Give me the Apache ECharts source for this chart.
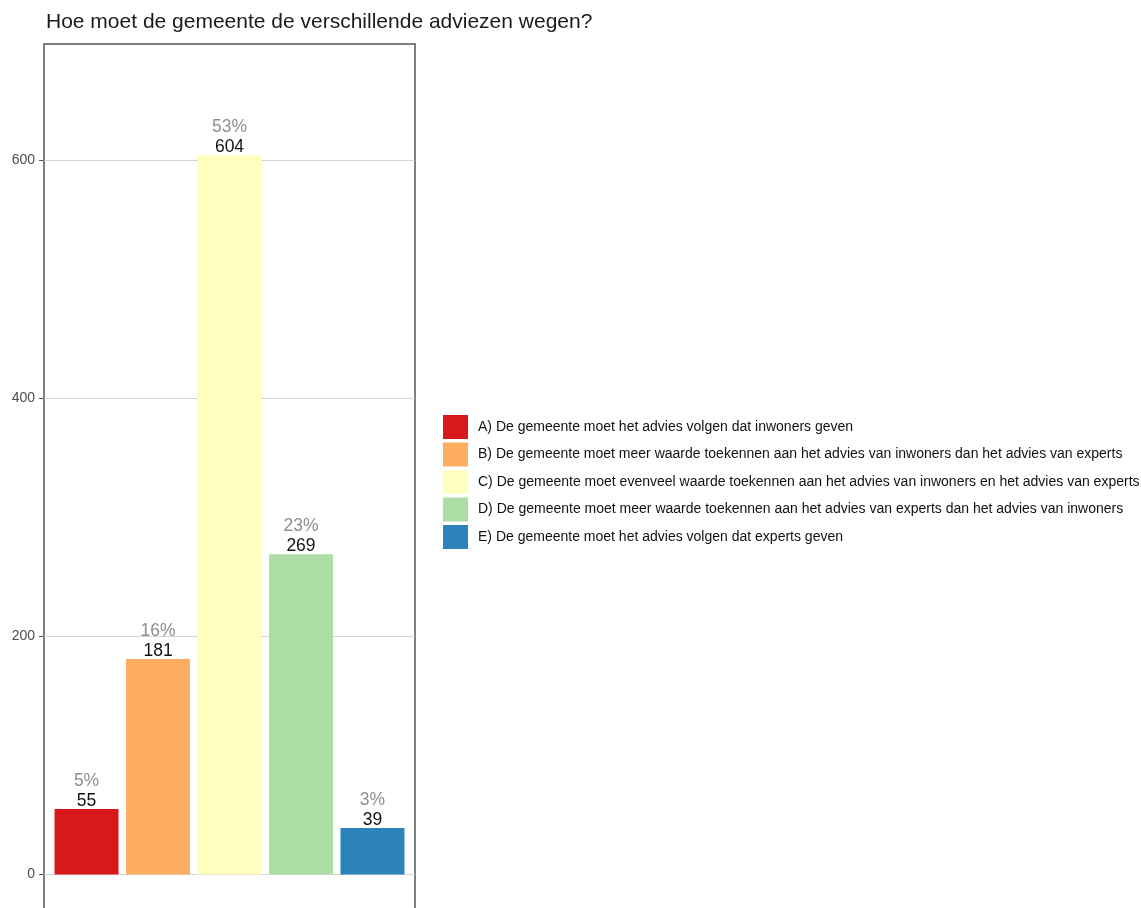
<!DOCTYPE html>
<html>
<head>
<meta charset="utf-8">
<script src="https://cdn.jsdelivr.net/npm/echarts@6/dist/echarts.min.js"></script>
<style>html,body{margin:0;padding:0;background:#fff}#c{width:1141px;height:908px}</style>
</head>
<body>
<div id="c"></div>
<script>
const title = 'Hoe moet de gemeente de verschillende adviezen wegen?';
const categories = [
  'A) De gemeente moet het advies volgen dat inwoners geven',
  'B) De gemeente moet meer waarde toekennen aan het advies van inwoners dan het advies van experts',
  'C) De gemeente moet evenveel waarde toekennen aan het advies van inwoners en het advies van experts',
  'D) De gemeente moet meer waarde toekennen aan het advies van experts dan het advies van inwoners',
  'E) De gemeente moet het advies volgen dat experts geven'
];
const counts = [55, 181, 604, 269, 39];
const percents = ['5%', '16%', '53%', '23%', '3%'];
const colors = ['#d7191c', '#fdae61', '#ffffbf', '#abdda4', '#2b83ba'];
const yTicks = [0, 200, 400, 600];

const chart = echarts.init(document.getElementById('c'), null, {renderer: 'canvas'});
const series = categories.map((name, i) => ({
  name: name,
  type: 'bar',
  data: [counts[i]],
  barWidth: 64,
  barGap: '11.7%',
  itemStyle: {color: colors[i]},
  label: {
    show: true,
    position: 'top',
    distance: -2,
    formatter: '{p|' + percents[i] + '}\n{v|' + counts[i] + '}',
    rich: {
      p: {color: '#8f8f8f', fontSize: 17.5, lineHeight: 20, fontFamily: 'Liberation Sans'},
      v: {color: '#111', fontSize: 17.5, lineHeight: 20, fontFamily: 'Liberation Sans'}
    }
  }
}));

chart.setOption({
  animation: false,
  backgroundColor: '#fff',
  title: {
    text: title,
    left: 41, top: 7,
    textStyle: {fontFamily: 'Liberation Sans', fontSize: 21, fontWeight: 'normal', color: '#1a1a1a'}
  },
  legend: {
    orient: 'vertical',
    left: 438, top: 410,
    itemWidth: 25, itemHeight: 24, itemGap: 3.5,
    icon: 'rect',
    textStyle: {fontFamily: 'Liberation Sans', fontSize: 14, color: '#111', padding: [7, 0, 0, 5]},
    data: categories
  },
  grid: {left: 44, top: 44, width: 371, height: 878, show: true, borderColor: '#555', borderWidth: 1.5,
         containLabel: false, outerBoundsMode: 'none'},
  xAxis: {
    type: 'category', data: [''],
    axisLine: {show: false}, axisTick: {show: false}, axisLabel: {show: false}
  },
  yAxis: {
    type: 'value', min: -40, max: 697.5,
    axisLine: {show: false},
    axisTick: {show: true, length: 5, lineStyle: {color: '#555'}, customValues: yTicks},
    axisLabel: {color: '#4d4d4d', fontSize: 14, fontFamily: 'Liberation Sans', margin: 9, customValues: yTicks},
    splitLine: {show: true, lineStyle: {color: '#d4d4d4', width: 1}}
  },
  series: series
});
</script>
</body>
</html>
